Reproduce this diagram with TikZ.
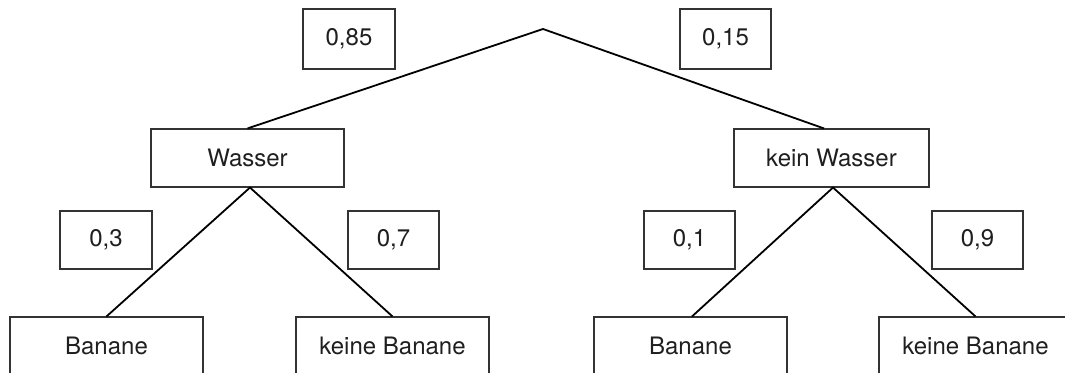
\documentclass[tikz,border=0pt]{standalone}
\usepackage{fontspec}
\setmainfont{TeX Gyre Heros}
\begin{document}
\begin{tikzpicture}[x=1pt,y=-1pt,
  box/.style={draw=black!80,line width=1.1pt,inner sep=0pt,text=black!88,
    font=\fontsize{24}{28}\selectfont},
  conn/.style={draw=black,line width=1.8pt}]
\useasboundingbox (0,0) rectangle (1065,372);
\clip (0,0) rectangle (1065,372);
\coordinate (root) at (543,29);
\node[box,minimum width=92pt,minimum height=60pt] (p85) at (349,39) {0,85};
\node[box,minimum width=91pt,minimum height=60pt] (p15) at (725.5,39) {0,15};
\node[box,minimum width=193pt,minimum height=58pt] (W) at (247.5,158) {Wasser};
\node[box,minimum width=195pt,minimum height=58pt] (KW) at (831.5,158) {kein Wasser};
\node[box,minimum width=92pt,minimum height=58pt] (p3) at (106,240) {0,3};
\node[box,minimum width=91pt,minimum height=58pt] (p7) at (393.5,240) {0,7};
\node[box,minimum width=91pt,minimum height=58pt] (p1) at (689.5,240) {0,1};
\node[box,minimum width=91pt,minimum height=58pt] (p9) at (977.5,240) {0,9};
\node[box,minimum width=193pt,minimum height=58pt] (B1) at (106.5,346) {Banane};
\node[box,minimum width=193pt,minimum height=58pt] (KB1) at (392.5,346) {keine Banane};
\node[box,minimum width=193pt,minimum height=58pt] (B2) at (690.5,346) {Banane};
\node[box,minimum width=193pt,minimum height=58pt] (KB2) at (975.5,346) {keine Banane};
\draw[conn] (W.north) -- (root) -- ([xshift=-7.5pt]KW.north);
\draw[conn] (B1.north) -- ([xshift=2.5pt]W.south) -- (KB1.north);
\draw[conn] ([xshift=1.5pt]B2.north) -- ([xshift=1.5pt]KW.south) -- (KB2.north);
\end{tikzpicture}
\end{document}
